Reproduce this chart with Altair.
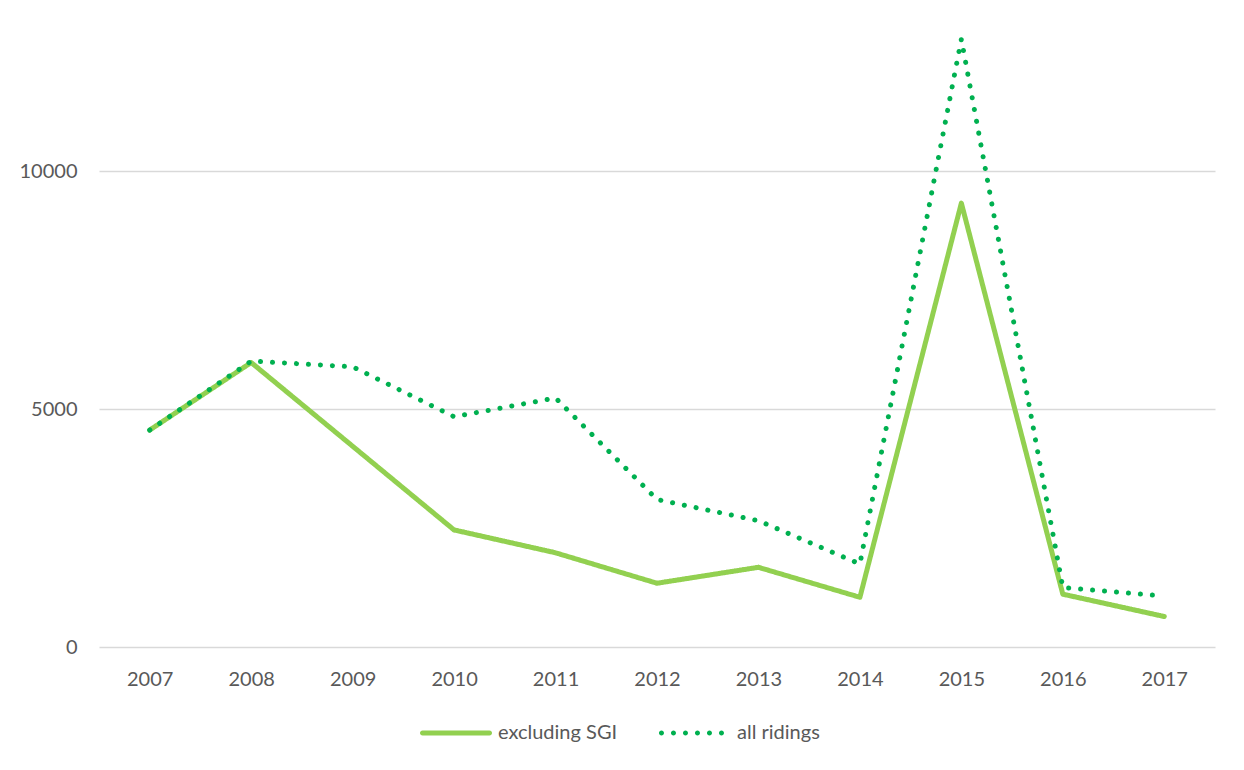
import altair as alt
import pandas as pd

# Yearly totals, two series
years = [str(y) for y in range(2007, 2018)]
excluding_sgi = [4560, 5980, 4220, 2460, 1980, 1340, 1675, 1045, 9330, 1110, 640]
all_ridings = [4560, 6010, 5890, 4840, 5235, 3100, 2655, 1745, 12775, 1250, 1070]
series_names = ["excluding SGI", "all ridings"]
series_colors = ["#92D050", "#00B050"]
series_dash = [[1, 0], [0.1, 11.9]]

rows = []
for name, vals in zip(series_names, [excluding_sgi, all_ridings]):
    for yr, v in zip(years, vals):
        rows.append({"year": yr, "series": name, "value": v})
df = pd.DataFrame(rows)

FONT = "Lato"
TEXT = "#595959"

# Legend key glyphs, in the unit box [-1, 1] (72 px wide at symbolSize 5184)
_r = 0.0694
solid_key = (
    f"M{-1 + _r},{-_r}H{1 - _r}A{_r},{_r} 0 0 1 {1 - _r},{_r}"
    f"H{-1 + _r}A{_r},{_r} 0 0 1 {-1 + _r},{-_r}Z"
)
dot_centers = [-0.931 + i * (12 / 36) for i in range(6)]
dotted_key = "".join(
    f"M{c - _r:.4f},0A{_r},{_r} 0 1 0 {c + _r:.4f},0A{_r},{_r} 0 1 0 {c - _r:.4f},0Z"
    for c in dot_centers
)

legend = alt.Legend(
    title=None,
    orient="none",
    legendX=321,
    legendY=678,
    direction="horizontal",
    symbolSize=5184,
    symbolStrokeWidth=0,
    symbolOpacity=1,
    labelFontSize=20,
    labelFont=FONT,
    labelColor=TEXT,
    labelOffset=6,
    columnPadding=40,
)

x_enc = alt.X(
    "year:O",
    sort=years,
    scale=alt.Scale(type="point", padding=0.5),
    axis=alt.Axis(
        title=None, labelAngle=0, domain=False, ticks=False, grid=False,
        labelFont=FONT, labelFontSize=20, labelColor=TEXT, labelPadding=22,
    ),
)
y_enc = alt.Y(
    "value:Q",
    scale=alt.Scale(domain=[0, 13200], nice=False),
    axis=alt.Axis(
        title=None, values=[0, 5000, 10000], format="d", domain=False, ticks=False,
        gridColor="#D9D9D9", gridWidth=1.3,
        labelFont=FONT, labelFontSize=20, labelColor=TEXT, labelPadding=22,
    ),
)

# Line scales list the series in reverse so their (hidden) legends stay
# separate from the key legend below
line_domain = series_names[::-1]
lines = (
    alt.Chart(df)
    .mark_line(strokeCap="round", strokeJoin="round", strokeWidth=5)
    .encode(
        x=x_enc,
        y=y_enc,
        color=alt.Color(
            "series:N",
            scale=alt.Scale(domain=line_domain, range=series_colors[::-1]),
            legend=None,
        ),
        strokeDash=alt.StrokeDash(
            "series:N",
            scale=alt.Scale(domain=line_domain, range=series_dash[::-1]),
            legend=None,
        ),
        order=alt.Order("year:O"),
    )
)

# Transparent key layer: only its legend is visible
keys = (
    alt.Chart(df)
    .mark_point(filled=True, size=1, opacity=0)
    .encode(
        x=alt.X("year:O", sort=years),
        y=alt.Y("value:Q"),
        fill=alt.Fill(
            "series:N",
            sort=series_names,
            scale=alt.Scale(domain=series_names, range=series_colors),
            legend=legend,
        ),
        shape=alt.Shape(
            "series:N",
            sort=series_names,
            scale=alt.Scale(domain=series_names, range=[solid_key, dotted_key]),
            legend=legend,
        ),
    )
)

chart = (
    alt.layer(lines, keys)
    .properties(
        width=1116,
        height=628,
        padding={"left": 99, "top": 19, "right": 29, "bottom": 123},
        autosize=alt.AutoSizeParams(type="none"),
    )
    .configure_view(stroke=None)
)

chart.save("out.html", embed_options={"renderer": "svg", "actions": False})
